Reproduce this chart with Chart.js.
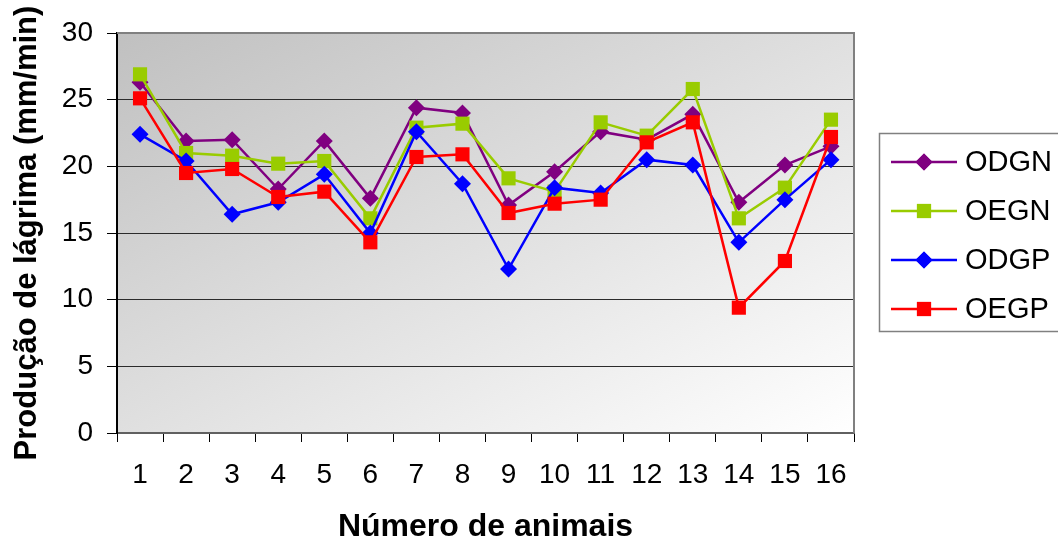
<!DOCTYPE html>
<html>
<head>
<meta charset="utf-8">
<script src="https://cdn.jsdelivr.net/npm/chart.js@4/dist/chart.umd.min.js"></script>
<style>
  body { margin: 0; background: #fff; }
  canvas { display: block; }
</style>
</head>
<body>
<canvas id="myChart" width="1058" height="547"></canvas>
<script>
var animais = ['1', '2', '3', '4', '5', '6', '7', '8', '9', '10', '11', '12', '13', '14', '15', '16'];
var odgn = [26.3, 21.9, 22.0, 18.3, 21.9, 17.6, 24.4, 24.0, 17.1, 19.6, 22.6, 22.0, 23.9, 17.3, 20.1, 21.5];
var oegn = [26.9, 21.0, 20.8, 20.2, 20.4, 16.1, 22.9, 23.2, 19.1, 18.1, 23.3, 22.3, 25.8, 16.1, 18.4, 23.5];
var odgp = [22.4, 20.4, 16.4, 17.3, 19.4, 15.0, 22.6, 18.7, 12.3, 18.4, 18.0, 20.5, 20.1, 14.3, 17.5, 20.5];
var oegp = [25.1, 19.5, 19.8, 17.7, 18.1, 14.3, 20.7, 20.9, 16.5, 17.2, 17.5, 21.8, 23.3, 9.4, 12.9, 22.2];
var yTicks = [0, 5, 10, 15, 20, 25, 30];

var fontName = '"Liberation Sans", Arial, sans-serif';

// plot background gradient + frame on top and right
var plotBg = {
    id: 'plotBg',
    beforeDraw: function (chart) {
        var a = chart.chartArea, c = chart.ctx;
        var W = a.right - a.left, H = a.bottom - a.top;
        // diagonal gradient: same shade along the bottom-left / top-right diagonal
        var t = 2 * W * H / (W * W + H * H);
        var g = c.createLinearGradient(a.left, a.top, a.left + t * H, a.top + t * W);
        g.addColorStop(0, '#c0c0c0');
        g.addColorStop(1, '#ffffff');
        c.save();
        c.fillStyle = g;
        c.fillRect(a.left, a.top, W, H);
        c.restore();
    },
    afterDatasetsDraw: function (chart) {
        var a = chart.chartArea, c = chart.ctx;
        c.save();
        c.strokeStyle = '#808080';
        c.lineWidth = 2;
        c.beginPath();
        c.moveTo(a.left, a.top);
        c.lineTo(a.right, a.top);
        c.lineTo(a.right, a.bottom);
        c.stroke();
        c.restore();
    }
};

// legend box on the right, line through the marker like the original
var boxLegend = {
    id: 'boxLegend',
    afterDraw: function (chart) {
        var c = chart.ctx;
        c.save();
        c.fillStyle = '#ffffff';
        c.fillRect(879, 133, 185, 198);
        c.strokeStyle = '#808080';
        c.lineWidth = 1.5;
        c.strokeRect(879.5, 133.5, 185, 198);
        chart.data.datasets.forEach(function (ds, i) {
            var y = 162 + i * 49;
            c.strokeStyle = ds.borderColor;
            c.lineWidth = 2.5;
            c.beginPath();
            c.moveTo(891, y);
            c.lineTo(957, y);
            c.stroke();
            c.fillStyle = ds.backgroundColor;
            Chart.helpers.drawPoint(c, { pointStyle: ds.pointStyle, radius: ds.pointRadius, rotation: 0, borderWidth: 0 }, 924, y);
            c.fill();
            c.fillStyle = '#000';
            c.font = '29px ' + fontName;
            c.textBaseline = 'middle';
            c.textAlign = 'left';
            c.fillText(ds.label, 965, y + 1);
        });
        c.restore();
    }
};

function serie(label, data, color, style, r, order) {
    return {
        label: label,
        data: data,
        borderColor: color,
        backgroundColor: color,
        borderWidth: 2.5,
        pointStyle: style,
        pointRadius: r,
        pointHoverRadius: r,
        pointBorderWidth: 0,
        tension: 0,
        order: order
    };
}

var ctx = document.getElementById('myChart').getContext('2d');
var myChart = new Chart(ctx, {
    type: 'line',
    data: {
        labels: animais,
        datasets: [
            serie('ODGN', odgn, '#800080', 'rectRot', 8.5, 4),
            serie('OEGN', oegn, '#99cc00', 'rect', 10, 3),
            serie('ODGP', odgp, '#0000ff', 'rectRot', 8.5, 2),
            serie('OEGP', oegp, '#ff0000', 'rect', 10, 1)
        ]
    },
    options: {
        responsive: false,
        animation: false,
        layout: { padding: { top: 33, right: 204, left: 0, bottom: 0 } },
        plugins: {
            legend: { display: false },
            tooltip: { enabled: false }
        },
        scales: {
            x: {
                offset: true,
                afterFit: function (s) { s.height = 114; },
                grid: { offset: true, drawOnChartArea: false, drawTicks: true, tickLength: 9, color: '#000', lineWidth: 1 },
                border: { color: '#606060', width: 2 },
                ticks: { color: '#000', font: { family: fontName, size: 28 }, padding: 16, maxRotation: 0 },
                title: { display: true, text: 'Número de animais', color: '#000', font: { family: fontName, size: 32, weight: 'bold' }, padding: { top: 0, bottom: 1 } }
            },
            y: {
                min: 0,
                max: 30,
                afterFit: function (s) { s.width = 117; },
                afterBuildTicks: function (s) { s.ticks = yTicks.map(function (v) { return { value: v }; }); },
                grid: {
                    drawTicks: true,
                    tickLength: 10,
                    lineWidth: 1,
                    color: function (c) { return c.tick && c.tick.value === 30 ? '#808080' : '#2b2b2b'; },
                    tickColor: '#000'
                },
                border: { color: '#000', width: 2 },
                ticks: { color: '#000', font: { family: fontName, size: 28 }, padding: 14 },
                title: { display: true, text: 'Produção de lágrima (mm/min)', color: '#000', font: { family: fontName, size: 31, weight: 'bold' }, padding: { top: 9, bottom: 0 } }
            }
        }
    },
    plugins: [plotBg, boxLegend]
});
</script>
</body>
</html>
